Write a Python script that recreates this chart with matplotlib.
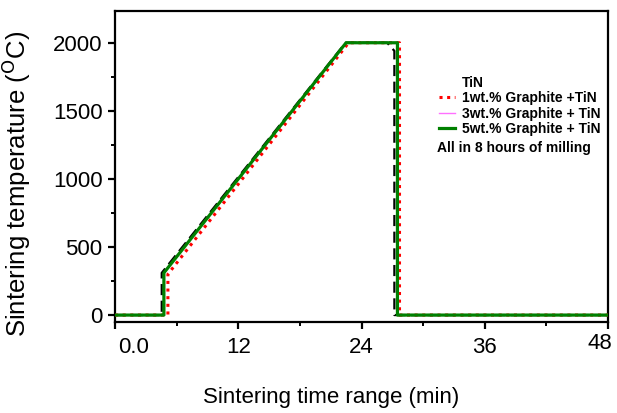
import matplotlib.pyplot as plt
from matplotlib.lines import Line2D
from matplotlib.ticker import MultipleLocator
import matplotlib.transforms as mtransforms

plt.rcParams['font.family'] = ['Liberation Sans', 'DejaVu Sans']

# sintering profiles: time (min) vs temperature (C)
t_tin = [0, 4.55, 4.55, 22.45, 26.5, 27.2, 27.2, 48]
T_tin = [0, 0, 310, 2000, 2000, 1940, 0, 0]

t_1wt = [0, 5.15, 5.15, 22.75, 27.7, 27.7, 48]
T_1wt = [0, 0, 300, 2000, 2000, 0, 0]

t_3wt = [0, 4.76, 4.76, 22.5, 27.5, 27.5, 48]
T_3wt = [0, 0, 310, 2000, 2000, 0, 0]

t_5wt = [0, 4.76, 4.76, 22.5, 27.5, 27.5, 48]
T_5wt = [0, 0, 310, 2000, 2000, 0, 0]

labels = ["TiN", "1wt.% Graphite +TiN", "3wt.% Graphite + TiN",
          "5wt.% Graphite + TiN"]
note = "All in 8 hours of milling"

fig = plt.figure(figsize=(6.17, 4.13), dpi=100)
ax = fig.add_axes([0.1864, 0.2203, 0.799, 0.753])

ax.plot(t_tin, T_tin, color="black", ls=(0, (5, 2.5)), lw=1.6, zorder=2)
ax.plot(t_3wt, T_3wt, color="#ff70ff", lw=1.0, zorder=1)
ax.plot(t_1wt, T_1wt, color="red", ls=(0, (1, 1.5)), lw=2.2, zorder=3)
ax.plot(t_5wt, T_5wt, color="green", lw=2.3, zorder=4)

ax.set_xlim(0, 48)
ax.set_ylim(-51, 2233)
ax.xaxis.set_minor_locator(MultipleLocator(6))
ax.yaxis.set_major_locator(MultipleLocator(500))
ax.yaxis.set_minor_locator(MultipleLocator(250))
ax.set_xticks([0, 12, 24, 36, 48])
ax.set_xticklabels(["0.0", "12", "24", "36", "48"])

for s in ax.spines.values():
    s.set_linewidth(1.6)
ax.tick_params(which="major", direction="out", length=5, width=1.6,
               labelsize=16)
ax.tick_params(axis="x", which="major", pad=6)
ax.tick_params(axis="y", which="major", pad=4)
ax.tick_params(which="minor", direction="out", length=3, width=1.4)

# shift the end labels of the time axis
xlabs = ax.get_xticklabels()
for lab, dx, dy in [(xlabs[0], 19, 0), (xlabs[-1], -8, 4)]:
    lab.set_transform(lab.get_transform() +
                      mtransforms.ScaledTranslation(dx / 100, dy / 100,
                                                    fig.dpi_scale_trans))

ax.set_xlabel("Sintering time range (min)", fontsize=16)
ax.xaxis.set_label_coords(0.438, -0.209)
ax.set_ylabel(r"Sintering temperature ($^{\mathrm{O}}$C)", fontsize=18.5)
ax.yaxis.set_label_coords(-0.166, 0.444)

handles = [
    Line2D([], [], ls="none"),
    Line2D([], [], color="red", ls=(0, (1, 1.5)), lw=2.2),
    Line2D([], [], color="#ff70ff", lw=1.0),
    Line2D([], [], color="green", lw=2.3),
]
ax.legend(handles, labels, loc="upper left", bbox_to_anchor=(0.631, 0.831),
          frameon=False, handlelength=1.2, handletextpad=0.5,
          labelspacing=0.09, prop={"weight": "bold", "size": 10})
ax.text(0.653, 0.5595, note, transform=ax.transAxes, fontsize=10,
        fontweight="bold", va="center")

fig.savefig("out.png", dpi=100)
